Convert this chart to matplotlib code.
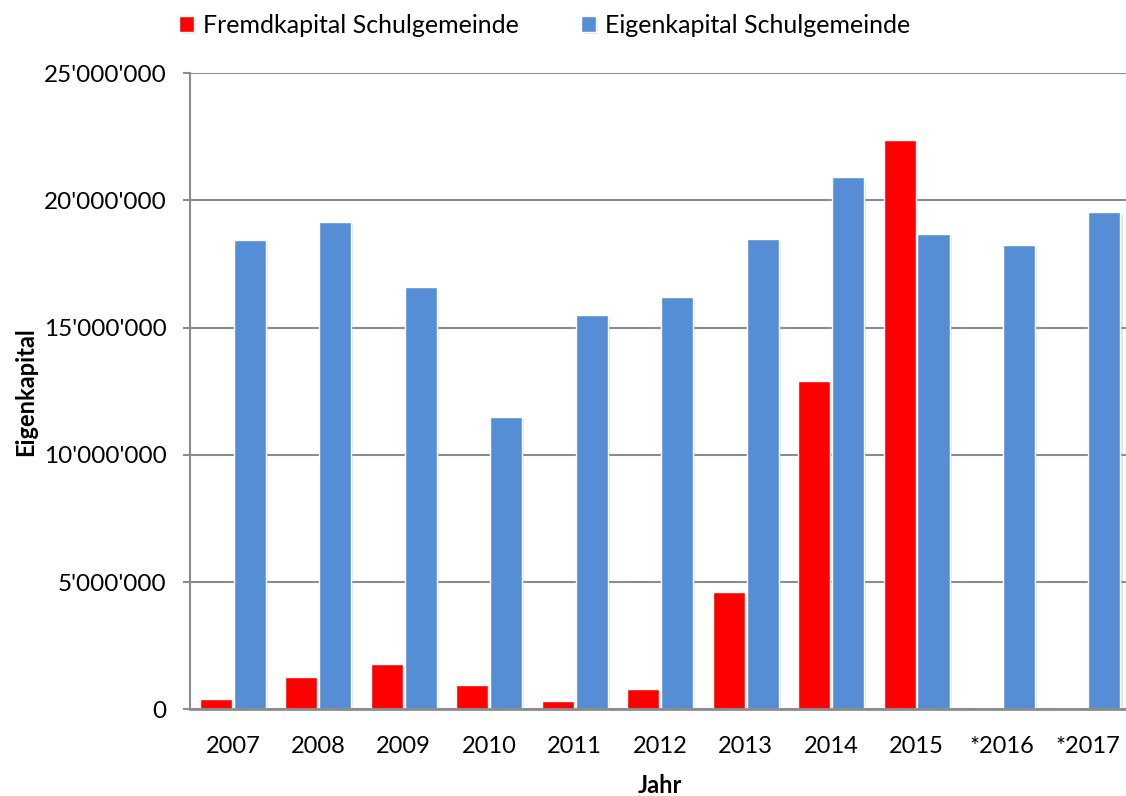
import numpy as np
import matplotlib
matplotlib.use("Agg")
import matplotlib.pyplot as plt
import matplotlib.patheffects as pe
from matplotlib.ticker import FuncFormatter

# ==========================
# Daten
# ==========================
jahre = ["2007", "2008", "2009", "2010", "2011", "2012", "2013", "2014", "2015", "*2016", "*2017"]

fremdkapital = [420000, 1280000, 1790000, 980000, 350000, 790000, 4600000, 12910000, 22370000, 0, 0]

eigenkapital = [18440000, 19140000, 16600000, 11500000, 15500000, 16190000,
                18480000, 20940000, 18680000, 18240000, 19550000]

plt.rcParams["font.family"] = ["Lato", "DejaVu Sans"]


def apostroph(v, pos):
    return f"{int(v):,}".replace(",", "'")


# ==========================
# Grafik
# ==========================
fig = plt.figure(figsize=(11.26, 7.96), dpi=100)
ax = fig.add_axes([0.1688, 0.1087, 0.835, 0.7993])

x = np.arange(len(jahre))
w = 0.375
shadow = [pe.SimplePatchShadow(offset=(1.5, -1.5), shadow_rgbFace="#999999", alpha=0.25), pe.Normal()]

ax.bar(x - w / 2 - 0.01, fremdkapital, w, color="#FF0000", edgecolor="white", linewidth=1,
       label="Fremdkapital Schulgemeinde", path_effects=shadow, zorder=3)
ax.bar(x + w / 2 + 0.01, eigenkapital, w, color="#558ED5", edgecolor="white", linewidth=1,
       label="Eigenkapital Schulgemeinde", path_effects=shadow, zorder=3)

ax.set_xlim(-0.5, len(jahre) - 0.5)
ax.set_ylim(0, 25000000)
ax.set_yticks(np.arange(0, 25000001, 5000000))
ax.yaxis.set_major_formatter(FuncFormatter(apostroph))
ax.set_xticks(x)
ax.set_xticklabels(jahre)

ax.grid(axis="y", color="#8c8c8c", linewidth=1.5, zorder=0)
for s in ["top", "right"]:
    ax.spines[s].set_visible(False)
ax.spines["left"].set_color("#8c8c8c")
ax.spines["left"].set_linewidth(1.5)
ax.spines["bottom"].set_color("#8c8c8c")
ax.spines["bottom"].set_linewidth(2)
ax.spines["bottom"].set_zorder(4)

ax.tick_params(axis="y", length=5, width=1.5, color="#8c8c8c", labelsize=17.5, pad=12)
ax.tick_params(axis="x", length=0, labelsize=17, pad=19)

ax.set_xlabel("Jahr", fontsize=17, fontweight="bold", labelpad=12)
ax.set_ylabel("Eigenkapital", fontsize=17, fontweight="bold", labelpad=5)

fig.legend(loc="upper left", bbox_to_anchor=(0.139, 1.011), ncol=2, frameon=False,
           fontsize=18, handlelength=0.6, handleheight=0.6, handletextpad=0.36,
           columnspacing=2.5)

fig.savefig("out.png", dpi=100)
